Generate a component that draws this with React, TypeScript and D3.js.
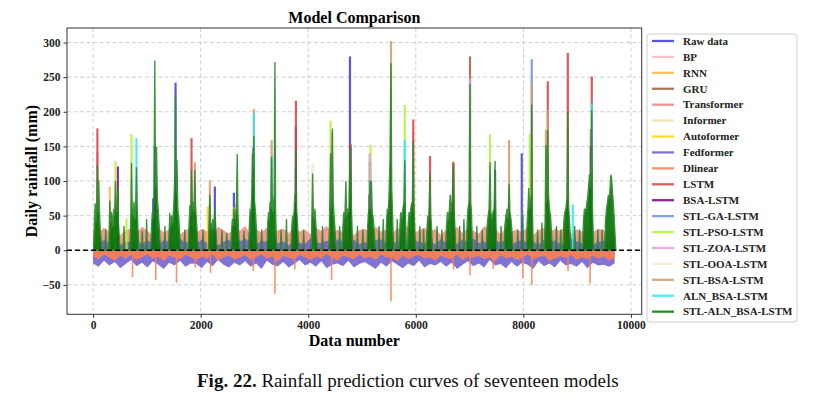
import React, { useEffect, useRef } from 'react';
import * as d3 from 'd3';

const models = [
  'Raw data', 'BP', 'RNN', 'GRU', 'Transformer', 'Informer', 'Autoformer', 'Fedformer', 'Dlinear',
  'LSTM', 'BSA-LSTM', 'STL-GA-LSTM', 'STL-PSO-LSTM', 'STL-ZOA-LSTM', 'STL-OOA-LSTM', 'STL-BSA-LSTM',
  'ALN_BSA-LSTM', 'STL-ALN_BSA-LSTM',
];
const colors = [
  '#3b3bd6', '#ffb6c1', '#f7b840', '#a0603e', '#f08080', '#f8dcb0', '#ffd700', '#6a5acd', '#ff7f50',
  '#e03c3c', '#800080', '#6a8ee6', '#b4f03c', '#dda0dd', '#faebd7', '#d29a6e', '#33e8f0', '#008000',
];

const xTicks = [0, 2000, 4000, 6000, 8000, 10000];
const yTicks = [-50, 0, 50, 100, 150, 200, 250, 300];

// STL-ALN_BSA-LSTM (green) read as [data number, rainfall]
const greenPts: [number, number][] = [
  [10, 0], [25, 45], [40, 68], [55, 40], [70, 75], [80, 123], [92, 55], [105, 101], [118, 60], [130, 35], [150, 15], [165, 0],
  [220, 0], [235, 30], [250, 0],
  [290, 0], [305, 45], [311, 72], [325, 40], [345, 55], [365, 35], [385, 60], [400, 50], [416, 100], [430, 65], [445, 55], [460, 90], [472, 40], [490, 15], [505, 0],
  [560, 0], [575, 35], [590, 0],
  [680, 0], [700, 40], [714, 126], [728, 60], [745, 50], [760, 70], [775, 45], [790, 55], [807, 120], [820, 60], [835, 30], [850, 0],
  [900, 0], [915, 28], [930, 0], [980, 0], [995, 45], [1010, 0],
  [1070, 0], [1085, 30], [1100, 55], [1115, 45], [1130, 70], [1148, 274], [1160, 90], [1180, 150], [1195, 75], [1210, 60], [1225, 40], [1245, 15], [1260, 0],
  [1320, 0], [1335, 35], [1350, 0],
  [1400, 0], [1415, 30], [1427, 54], [1440, 35], [1460, 50], [1480, 40], [1500, 65], [1520, 110], [1533, 224], [1548, 80], [1560, 130], [1575, 60], [1595, 45], [1615, 15], [1630, 0],
  [1690, 0], [1705, 30], [1720, 0],
  [1770, 0], [1785, 40], [1800, 65], [1815, 50], [1830, 116], [1845, 60], [1860, 70], [1875, 55], [1892, 116], [1905, 65], [1925, 40], [1945, 15], [1960, 0],
  [2030, 0], [2045, 30], [2060, 0],
  [2140, 0], [2155, 35], [2171, 80], [2185, 40], [2205, 30], [2225, 45], [2245, 30], [2264, 60], [2280, 35], [2300, 10], [2315, 0],
  [2380, 0], [2395, 30], [2410, 0], [2470, 0], [2485, 25], [2500, 0],
  [2560, 0], [2575, 30], [2590, 45], [2605, 35], [2618, 60], [2635, 45], [2650, 50], [2665, 70], [2680, 139], [2693, 55], [2710, 20], [2725, 0],
  [2790, 0], [2805, 28], [2820, 0],
  [2890, 0], [2905, 35], [2920, 60], [2935, 55], [2950, 80], [2962, 140], [2977, 120], [2990, 165], [3003, 70], [3020, 55], [3040, 25], [3055, 0],
  [3120, 0], [3135, 30], [3150, 0],
  [3230, 0], [3245, 35], [3260, 55], [3275, 45], [3290, 70], [3305, 60], [3319, 135], [3335, 55], [3350, 60], [3365, 80], [3381, 272], [3393, 60], [3405, 20], [3420, 0],
  [3480, 0], [3495, 30], [3510, 0], [3580, 0], [3595, 45], [3610, 0],
  [3680, 0], [3695, 35], [3710, 50], [3725, 45], [3740, 60], [3750, 80], [3760, 70], [3771, 145], [3785, 60], [3800, 40], [3815, 15], [3830, 0],
  [3900, 0], [3915, 30], [3930, 0],
  [4050, 0], [4065, 35], [4081, 111], [4095, 55], [4110, 45], [4125, 60], [4140, 40], [4160, 15], [4175, 0],
  [4250, 0], [4265, 35], [4280, 0],
  [4380, 0], [4395, 40], [4416, 140], [4430, 60], [4450, 176], [4465, 70], [4480, 50], [4495, 35], [4510, 10], [4525, 0],
  [4570, 0], [4585, 35], [4600, 0],
  [4630, 0], [4645, 35], [4660, 55], [4680, 45], [4700, 100], [4715, 50], [4735, 60], [4755, 55], [4776, 136], [4790, 150], [4805, 60], [4820, 20], [4835, 0],
  [4900, 0], [4915, 35], [4930, 0], [5000, 0], [5015, 30], [5030, 0],
  [5090, 0], [5105, 35], [5120, 55], [5135, 60], [5149, 101], [5162, 60], [5175, 100], [5190, 55], [5210, 45], [5230, 25], [5250, 0],
  [5300, 0], [5315, 35], [5330, 0], [5380, 0], [5395, 45], [5410, 0],
  [5440, 0], [5455, 40], [5470, 60], [5485, 55], [5500, 75], [5520, 130], [5539, 270], [5552, 90], [5565, 60], [5580, 20], [5595, 0],
  [5640, 0], [5655, 45], [5670, 0],
  [5690, 0], [5705, 35], [5720, 55], [5740, 45], [5760, 60], [5780, 70], [5795, 130], [5808, 50], [5820, 10], [5830, 0],
  [5845, 0], [5860, 40], [5875, 55], [5895, 50], [5915, 65], [5935, 70], [5953, 159], [5967, 60], [5985, 25], [6000, 0],
  [6060, 0], [6075, 35], [6090, 0], [6130, 0], [6145, 30], [6160, 0],
  [6195, 0], [6210, 35], [6225, 50], [6240, 45], [6265, 111], [6278, 50], [6295, 30], [6310, 0],
  [6380, 0], [6395, 35], [6410, 0], [6470, 0], [6485, 30], [6500, 0],
  [6555, 0], [6570, 35], [6590, 55], [6610, 45], [6625, 60], [6640, 80], [6655, 55], [6675, 70], [6698, 124], [6712, 60], [6730, 30], [6745, 0],
  [6800, 0], [6815, 35], [6830, 0], [6880, 0], [6895, 45], [6910, 0],
  [6940, 0], [6955, 40], [6970, 60], [6990, 70], [7008, 241], [7020, 70], [7035, 55], [7050, 15], [7060, 0],
  [7120, 0], [7135, 35], [7150, 0], [7220, 0], [7235, 30], [7250, 0],
  [7310, 0], [7325, 35], [7345, 50], [7362, 60], [7380, 127], [7395, 55], [7415, 45], [7435, 55], [7455, 60], [7474, 129], [7488, 45], [7500, 10], [7510, 0],
  [7570, 0], [7585, 35], [7600, 0],
  [7640, 0], [7655, 35], [7675, 50], [7700, 60], [7715, 45], [7734, 96], [7750, 55], [7770, 45], [7790, 25], [7810, 0],
  [7880, 0], [7895, 30], [7910, 0], [7970, 0], [7989, 52], [8005, 0],
  [8055, 0], [8070, 40], [8085, 60], [8100, 90], [8115, 60], [8130, 70], [8145, 80], [8156, 210], [8168, 60], [8180, 15], [8190, 0],
  [8250, 0], [8265, 30], [8280, 0], [8330, 0], [8345, 40], [8360, 0],
  [8390, 0], [8405, 45], [8420, 152], [8435, 70], [8454, 174], [8468, 80], [8485, 60], [8505, 50], [8525, 25], [8540, 0],
  [8600, 0], [8615, 35], [8630, 0], [8680, 0], [8695, 30], [8710, 0],
  [8735, 0], [8750, 40], [8770, 55], [8790, 60], [8810, 75], [8826, 200], [8840, 65], [8860, 40], [8875, 15], [8885, 0],
  [8940, 0], [8955, 35], [8970, 0], [9030, 0], [9045, 30], [9060, 0],
  [9100, 0], [9115, 40], [9135, 60], [9155, 55], [9175, 65], [9200, 80], [9230, 110], [9250, 90], [9272, 203], [9285, 60], [9300, 20], [9310, 0],
  [9370, 0], [9385, 30], [9400, 0], [9450, 0], [9465, 30], [9480, 0],
  [9510, 0], [9525, 40], [9545, 60], [9565, 70], [9580, 80], [9600, 75], [9626, 109], [9640, 105], [9660, 80], [9680, 60], [9700, 30], [9720, 0],
];

// [model index, data number, peak rainfall] for peaks rising above the green series
const modelPeaks: [number, number, number][] = [
  [0, 1533, 242], [0, 4776, 280], [0, 2977, 148], [0, 3771, 179], [0, 2264, 92], [0, 2618, 83], [0, 7970, 140],
  [0, 1148, 150], [0, 7474, 116], [0, 1117, 75], [0, 5149, 118], [0, 9255, 150],
  [1, 80, 142], [1, 6698, 110],
  [2, 311, 92], [2, 4434, 122], [2, 8454, 100],
  [3, 7008, 280], [3, 6698, 128], [3, 9255, 140],
  [5, 4081, 123], [5, 5953, 172], [5, 8826, 246],
  [6, 2135, 63], [6, 2612, 62], [6, 5965, 68], [6, 1530, 65],
  [9, 80, 176], [9, 1830, 162], [9, 3771, 216], [9, 5953, 189], [9, 6265, 136], [9, 8454, 244], [9, 8826, 285],
  [9, 9272, 251], [9, 9255, 175], [9, 4790, 153], [9, 6698, 125],
  [10, 460, 121], [10, 3771, 120], [10, 9262, 150], [10, 5133, 80], [10, 5149, 128],
  [11, 8156, 276], [11, 5149, 125],
  [12, 416, 129], [12, 714, 168], [12, 4416, 187], [12, 5160, 152], [12, 5795, 210], [12, 7380, 167], [12, 621, 46], [12, 8120, 168],
  [13, 7008, 248], [13, 5140, 140],
  [14, 4081, 125],
  [15, 2990, 204], [15, 3319, 159], [15, 1892, 127], [15, 80, 115], [15, 2171, 101], [15, 5539, 302], [15, 7734, 159],
  [15, 8156, 241], [15, 8454, 203], [15, 8420, 174], [15, 4440, 170],
  [16, 807, 162], [16, 2990, 198], [16, 5795, 159], [16, 9272, 212], [16, 8920, 66], [16, 3319, 135], [16, 1533, 60],
];

// Dlinear downward spikes
const dlinearDips: [number, number][] = [
  [733, -39], [1166, -43], [1551, -47], [2184, -33], [3381, -63], [3750, -28], [4435, -43], [5539, -74],
  [7008, -36], [7437, -27], [7989, -40], [8156, -50], [9240, -48], [1900, -25], [2980, -30], [6700, -28], [8830, -30],
];

// error band envelopes, read every ~100 samples
const transformerTop = [
  30, 24, 33, 27, 35, 22, 29, 31, 25, 34,
  28, 21, 32, 26, 30, 36, 23, 29, 33, 25,
  31, 27, 22, 34, 29, 24, 32, 28, 35, 23,
  30, 26, 33, 21, 29, 31, 25, 34, 27, 30,
  23, 32, 28, 35, 24, 30, 26, 33, 22, 29,
  31, 25, 34, 27, 30, 23, 32, 28, 36, 24,
  29, 33, 26, 31, 22, 30, 27, 34, 25, 32,
  28, 24, 35, 29, 31, 23, 33, 27, 30, 26,
  34, 22, 29, 32, 25, 31, 28, 35, 24, 30,
  27, 33, 26, 31, 29, 24, 32,
];
const fedformerTop = [
  12, 8, 15, 10, 17, 7, 13, 11, 16, 9,
  14, 10, 6, 15, 12, 9, 17, 11, 13, 8,
  16, 10, 14, 7, 12, 15, 9, 13, 17, 11,
  8, 14, 12, 16, 10, 13, 7, 15, 11, 9,
  17, 12, 10, 14, 8, 16, 13, 11, 15, 9,
  12, 7, 14, 16, 10, 13, 11, 17, 9, 15,
  12, 10, 14, 8, 16, 11, 13, 9, 15, 12,
  17, 10, 13, 7, 14, 11, 16, 9, 12, 15,
  10, 13, 8, 16, 12, 14, 9, 11, 17, 13,
  10, 15, 8, 12, 14, 11, 16,
];
const fedformerBottom = [
  -19, -24, -15, -22, -17, -26, -20, -14, -23, -18,
  -25, -16, -21, -27, -18, -22, -15, -24, -19, -20,
  -26, -17, -23, -14, -21, -25, -18, -22, -16, -24,
  -19, -27, -15, -21, -23, -17, -25, -20, -14, -22,
  -18, -24, -16, -26, -21, -19, -23, -15, -25, -20,
  -17, -22, -27, -18, -24, -16, -21, -26, -19, -23,
  -15, -25, -20, -22, -17, -24, -18, -27, -21, -16,
  -23, -19, -25, -14, -22, -20, -26, -17, -24, -18,
  -21, -27, -16, -23, -19, -25, -15, -22, -20, -24,
  -17, -26, -18, -22, -21, -24, -19,
];
const dlinearBottom = [
  -9, -13, -6, -11, -15, -8, -12, -7, -14, -10,
  -6, -12, -9, -16, -8, -11, -13, -7, -10, -14,
  -9, -12, -6, -15, -10, -8, -13, -11, -7, -14,
  -10, -6, -12, -9, -16, -8, -11, -13, -7, -10,
  -14, -9, -12, -6, -11, -15, -8, -10, -13, -7,
  -12, -9, -14, -6, -11, -10, -16, -8, -13, -9,
  -7, -12, -10, -15, -8, -11, -13, -6, -14, -9,
  -11, -8, -13, -10, -16, -7, -12, -9, -14, -11,
  -6, -13, -10, -8, -15, -12, -9, -11, -7, -14,
  -10, -13, -8, -12, -9, -15, -11,
];

const W = 824;
const H = 397;
const left = 67;
const right = 641.7;
const top = 28;
const bottom = 314.3;
const serif = "'Liberation Serif', 'Times New Roman', Times, serif";

const App = () => {
  const svgRef = useRef(null);

  useEffect(() => {
    const svg: any = d3.select(svgRef.current);
    svg.selectAll('*').remove();

    const x = d3.scaleLinear().domain([-485, 10200]).range([left, right]);
    const y = d3.scaleLinear().domain([-92.5, 321]).range([bottom, top]);
    const bandPos = transformerTop.map((_, i) => i * 101);

    svg.append('rect').attr('width', W).attr('height', H).attr('fill', '#fff');

    // grid
    const grid = svg.append('g').attr('stroke', '#c4c4c4').attr('stroke-width', 0.8).attr('stroke-dasharray', '4,2.5');
    xTicks.forEach((t) => grid.append('line').attr('x1', x(t)).attr('x2', x(t)).attr('y1', top).attr('y2', bottom));
    yTicks.forEach((t) => grid.append('line').attr('x1', left).attr('x2', right).attr('y1', y(t)).attr('y2', y(t)));

    const plot = svg.append('g');

    // bands
    plot.append('path')
      .attr('d', d3.area<number>().x((_, i) => x(bandPos[i])).y0(y(0)).y1((d) => y(d))(transformerTop))
      .attr('fill', '#f49a94');
    plot.append('path')
      .attr('d', d3.area<number>().x((_, i) => x(bandPos[i])).y0((d) => y(d)).y1((_, i) => y(fedformerTop[i]))(fedformerBottom))
      .attr('fill', colors[7]).attr('opacity', 0.85);
    plot.append('path')
      .attr('d', d3.area<number>().x((_, i) => x(bandPos[i])).y0(y(0)).y1((d) => y(d))(dlinearBottom))
      .attr('fill', colors[8]).attr('opacity', 0.9);
    plot.selectAll('.dip')
      .data(dlinearDips)
      .join('line')
      .attr('x1', (d: [number, number]) => x(d[0])).attr('x2', (d: [number, number]) => x(d[0]))
      .attr('y1', y(0)).attr('y2', (d: [number, number]) => y(d[1]))
      .attr('stroke', colors[8]).attr('stroke-width', 1.6).attr('opacity', 0.85);

    // other models' peaks
    plot.selectAll('.peak')
      .data(modelPeaks)
      .join('line')
      .attr('x1', (d: number[]) => x(d[1])).attr('x2', (d: number[]) => x(d[1]))
      .attr('y1', y(0)).attr('y2', (d: number[]) => y(d[2]))
      .attr('stroke', (d: number[]) => colors[d[0]]).attr('stroke-width', 2.2).attr('opacity', 0.85);

    // green series
    const greenArea = d3.area<[number, number]>().x((d) => x(d[0])).y0(y(0)).y1((d) => y(d[1]));
    plot.append('path').attr('d', greenArea(greenPts)).attr('fill', '#067606').attr('opacity', 0.92)
      .attr('stroke', '#2c8a2c').attr('stroke-width', 1.3);

    // zero line
    svg.append('line').attr('x1', left).attr('x2', right).attr('y1', y(0)).attr('y2', y(0))
      .attr('stroke', '#000').attr('stroke-width', 1.5).attr('stroke-dasharray', '5,3');

    // frame
    svg.append('rect').attr('x', left).attr('y', top).attr('width', right - left).attr('height', bottom - top)
      .attr('fill', 'none').attr('stroke', '#333').attr('stroke-width', 1);

    // axes
    const yAxis = d3.axisLeft(y).tickValues(yTicks).tickSize(3.5).tickPadding(3);
    const gy = svg.append('g').attr('transform', `translate(${left},0)`).call(yAxis);
    const xAxis = d3.axisBottom(x).tickValues(xTicks).tickSize(3.5).tickPadding(3).tickFormat(d3.format('d'));
    const gx = svg.append('g').attr('transform', `translate(0,${bottom})`).call(xAxis);
    [gx, gy].forEach((g: any) => {
      g.select('.domain').remove();
      g.selectAll('line').attr('stroke', '#333');
      g.selectAll('text').attr('font-family', serif).attr('font-size', 11.5).attr('font-weight', 'bold').attr('fill', '#222');
    });

    // titles
    svg.append('text').attr('x', (left + right) / 2).attr('y', 22.5).attr('text-anchor', 'middle')
      .attr('font-family', serif).attr('font-size', 16).attr('font-weight', 'bold').text('Model Comparison');
    svg.append('text').attr('x', (left + right) / 2).attr('y', 346).attr('text-anchor', 'middle')
      .attr('font-family', serif).attr('font-size', 16).attr('font-weight', 'bold').text('Data number');
    svg.append('text').attr('transform', `translate(37,${(top + bottom) / 2}) rotate(-90)`).attr('text-anchor', 'middle')
      .attr('font-family', serif).attr('font-size', 16).attr('font-weight', 'bold').text('Daily rainfall (mm)');

    // legend
    const lg = svg.append('g');
    lg.append('rect').attr('x', 647).attr('y', 34).attr('width', 150).attr('height', 288).attr('rx', 3)
      .attr('fill', '#fff').attr('stroke', '#d0d0d0').attr('stroke-width', 1);
    models.forEach((m, i) => {
      const cy = 41 + i * 15.92;
      lg.append('line').attr('x1', 652).attr('x2', 674).attr('y1', cy).attr('y2', cy)
        .attr('stroke', colors[i]).attr('stroke-width', 2.3).attr('opacity', 0.85);
      lg.append('text').attr('x', 683).attr('y', cy + 3.8).attr('font-family', serif).attr('font-size', 11)
        .attr('font-weight', 'bold').attr('fill', '#222').text(m);
    });

    // caption
    const cap = svg.append('text').attr('x', 197).attr('y', 387).attr('font-family', serif).attr('font-size', 19).attr('fill', '#111');
    cap.append('tspan').attr('font-weight', 'bold').text('Fig. 22.');
    cap.append('tspan').text(' Rainfall prediction curves of seventeen models');
  }, []);

  return (
    <svg ref={svgRef} width={W} height={H} style={{ position: 'absolute', left: 0, top: 0, display: 'block' }} />
  );
};

export default App;
